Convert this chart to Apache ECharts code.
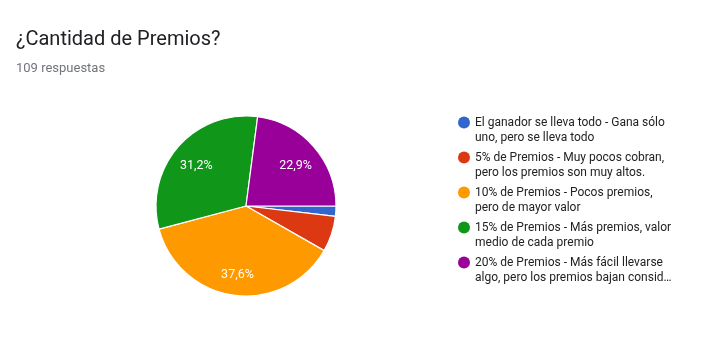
<!DOCTYPE html>
<html>
<head>
<meta charset="utf-8">
<script src="https://cdn.jsdelivr.net/npm/echarts@6/dist/echarts.min.js"></script>
<style>
html,body{margin:0;padding:0;background:#fff;}
#chart{width:721px;height:356px;}
</style>
</head>
<body>
<div id="chart"></div>
<script>
const titleText = '¿Cantidad de Premios?';
const subtitleText = '109 respuestas';
const categories = [
  'El ganador se lleva todo - Gana sólo uno, pero se lleva todo',
  '5% de Premios - Muy pocos cobran, pero los premios son muy altos.',
  '10% de Premios - Pocos premios, pero de mayor valor',
  '15% de Premios - Más premios, valor medio de cada premio',
  '20% de Premios - Más fácil llevarse algo, pero los premios bajan considerablemente'
];
const legendLabels = [
  'El ganador se lleva todo - Gana sólo\nuno, pero se lleva todo',
  '5% de Premios - Muy pocos cobran,\npero los premios son muy altos.',
  '10% de Premios - Pocos premios,\npero de mayor valor',
  '15% de Premios - Más premios, valor\nmedio de cada premio',
  '20% de Premios - Más fácil llevarse\nalgo, pero los premios bajan consid…'
];
const counts = [2, 7, 41, 34, 25];
const colors = ['#3366cc', '#dc3912', '#ff9900', '#109618', '#990099'];

const total = counts.reduce((a, b) => a + b, 0);
const data = categories.map((n, i) => ({ name: n, value: counts[i] }));
const chart = echarts.init(document.getElementById('chart'), null, { renderer: 'canvas' });
const font = 'Roboto, Arial, sans-serif';
chart.setOption({
  animation: false,
  color: colors,
  title: [
    { text: titleText, left: 11, top: 25, textStyle: { fontFamily: font, fontSize: 20, fontWeight: 'normal', color: '#202124' } },
    { text: subtitleText, left: 11, top: 57, textStyle: { fontFamily: font, fontSize: 13, fontWeight: 'normal', color: '#70757a' } }
  ],
  legend: {
    orient: 'vertical',
    left: 453,
    top: 110,
    itemWidth: 12,
    itemHeight: 30,
    itemGap: 5,
    icon: 'path://M0,0M12,30M6,1.5A6,6,0,1,1,6,13.5A6,6,0,1,1,6,1.5Z',
    itemStyle: { borderWidth: 0 },
    formatter: name => legendLabels[categories.indexOf(name)],
    textStyle: { fontFamily: font, fontSize: 12, lineHeight: 15, color: '#222222' },
    data: categories
  },
  series: [
    {
      type: 'pie',
      center: [246, 206],
      radius: [0, 90],
      startAngle: 0,
      clockwise: true,
      avoidLabelOverlap: false,
      emphasis: { disabled: true },
      itemStyle: { borderColor: '#ffffff', borderWidth: 1.2 },
      label: { show: false },
      labelLine: { show: false },
      data: data
    },
    {
      type: 'pie',
      center: [246, 206],
      radius: [36, 90],
      startAngle: 0,
      clockwise: true,
      silent: true,
      avoidLabelOverlap: false,
      emphasis: { disabled: true },
      itemStyle: { color: 'rgba(0,0,0,0)', borderWidth: 0 },
      label: {
        show: true,
        position: 'inside',
        offset: [0, 3],
        fontFamily: font,
        fontSize: 12.5,
        color: '#ffffff',
        formatter: p => {
          const pct = p.value / total * 100;
          return pct >= 10 ? pct.toFixed(1).replace('.', ',') + '%' : '';
        }
      },
      labelLine: { show: false },
      data: data
    }
  ]
});
</script>
</body>
</html>
